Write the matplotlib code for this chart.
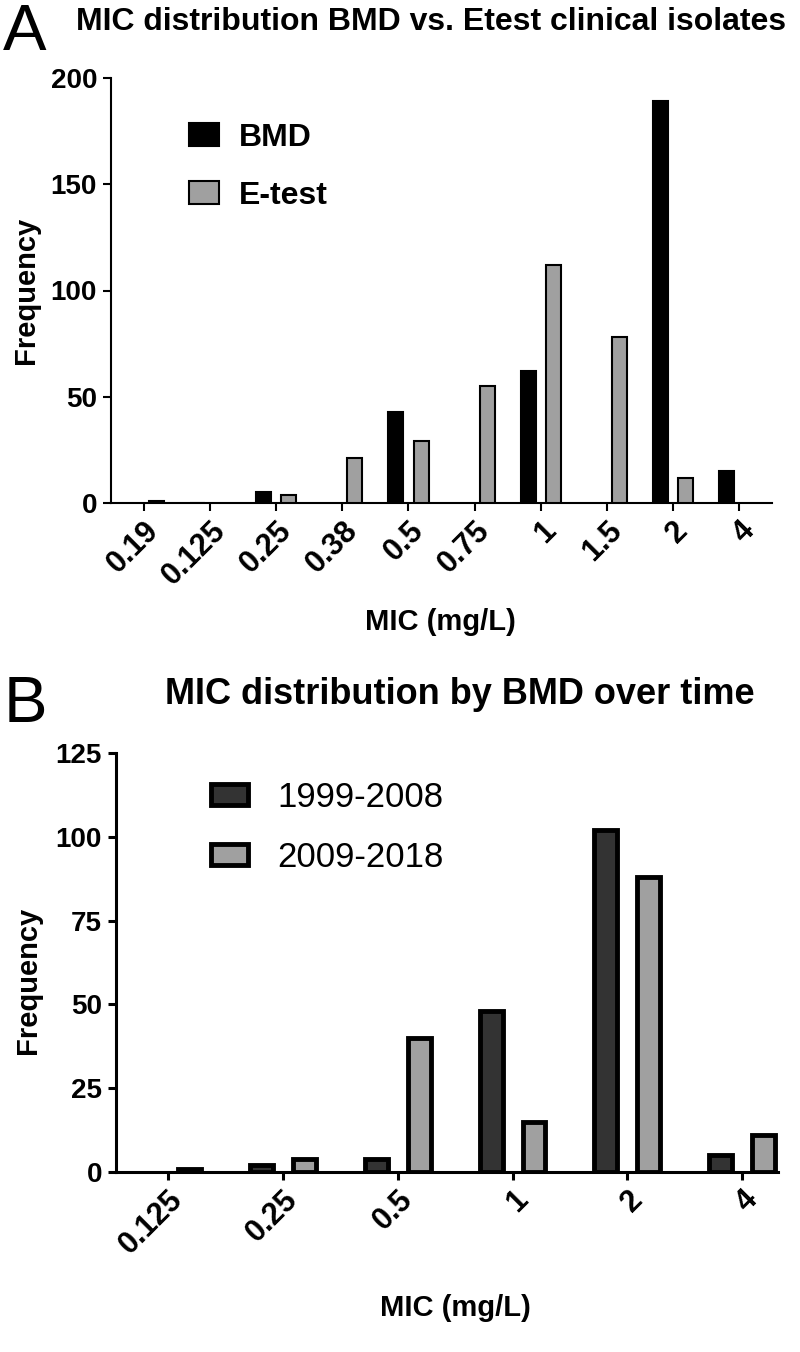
import numpy as np
import matplotlib
matplotlib.use("Agg")
import matplotlib.pyplot as plt
from matplotlib.patches import Patch

# ---------------- data ----------------
a_categories = ["0.19", "0.125", "0.25", "0.38", "0.5", "0.75", "1", "1.5", "2", "4"]
a_bmd = [1, np.nan, 5, np.nan, 43, np.nan, 62, np.nan, 189, 15]
a_etest = [np.nan, 0, 4, 21, 29, 55, 112, 78, 12, np.nan]

b_categories = ["0.125", "0.25", "0.5", "1", "2", "4"]
b_1999_2008 = [np.nan, 2, 4, 48, 102, 5]
b_2009_2018 = [1, 4, 40, 15, 88, 11]

# ---------------- style ----------------
plt.rcParams['font.family'] = ['Liberation Sans', 'DejaVu Sans']
a_bmd_side = [1, -1, -1, -1, -1, -1, -1, -1, -1, -1]
a_etest_side = [1, -1, 1, 1, 1, 1, 1, 1, 1, 1]

fig = plt.figure(figsize=(8, 13.52), dpi=100)


def style_axes(ax, lw):
    for s in ['top', 'right']:
        ax.spines[s].set_visible(False)
    for s in ['left', 'bottom']:
        ax.spines[s].set_linewidth(lw)
    ax.tick_params(axis='both', width=lw, length=6, direction='out')
    ax.tick_params(axis='y', pad=4)
    ax.tick_params(axis='x', pad=3)


def draw_bars(ax, x, vals, side, color, lw, off, w):
    vals = np.asarray(vals, dtype=float)
    x = np.asarray(x, dtype=float)
    side = np.asarray(side, dtype=float)
    m = ~np.isnan(vals)
    ax.bar(x[m] + side[m] * off, vals[m], width=w, color=color,
           edgecolor='black', linewidth=lw, zorder=3)


def tick_fonts(ax, xsize, ysize):
    for lab in ax.get_xticklabels():
        lab.set_fontsize(xsize)
        lab.set_fontweight('bold')
        lab.set_rotation(45)
        lab.set_ha('right')
        lab.set_va('top')
        lab.set_rotation_mode('anchor')
    for lab in ax.get_yticklabels():
        lab.set_fontsize(ysize)
        lab.set_fontweight('bold')


# ---------------- Panel A ----------------
axA = fig.add_axes([111 / 800, 1 - 503 / 1352, (772 - 111) / 800, (503 - 78) / 1352])
xa = np.arange(len(a_categories))
draw_bars(axA, xa, a_bmd, a_bmd_side, 'black', 1.5, 0.19, 0.227)
draw_bars(axA, xa, a_etest, a_etest_side, '#a0a0a0', 1.5, 0.19, 0.227)
axA.set_xlim(-0.5, len(a_categories) - 0.5)
axA.set_ylim(0, 200)
axA.set_yticks([0, 50, 100, 150, 200])
axA.set_xticks(xa)
axA.set_xticklabels(a_categories)
tick_fonts(axA, 22, 20)
style_axes(axA, 1.5)
axA.set_ylabel('Frequency', fontsize=21, fontweight='bold')
axA.yaxis.set_label_coords((26 - 111) / 661, (503 - 290) / 425)
axA.yaxis.label.set_va('center')
axA.set_xlabel('MIC (mg/L)', fontsize=21, fontweight='bold')
axA.xaxis.set_label_coords((440 - 111) / 661, (503 - 622) / 425)
axA.xaxis.label.set_va('center')
fig.text(431 / 800, 1 - 22 / 1352, 'MIC distribution BMD vs. Etest clinical isolates',
         fontsize=23, fontweight='bold', ha='center', va='center')
hA = [Patch(facecolor='black', edgecolor='black', linewidth=1.5),
      Patch(facecolor='#a0a0a0', edgecolor='black', linewidth=1.5)]
axA.legend(hA, ['BMD', 'E-test'], loc='upper left',
           bbox_to_anchor=((189 - 111) / 661, (503 - 123) / 425),
           frameon=False, borderpad=0, borderaxespad=0,
           prop={'family': 'Liberation Sans', 'weight': 'bold', 'size': 23},
           handlelength=0.94, handleheight=0.72, handletextpad=0.62, labelspacing=0.87)
fig.text(0.004, 1 - 50 / 1352, 'A', fontsize=47, ha='left', va='baseline')

# ---------------- Panel B ----------------
axB = fig.add_axes([116 / 800, 1 - 1172 / 1352, (778 - 116) / 800, (1172 - 753) / 1352])
xb = np.arange(len(b_categories))
draw_bars(axB, xb, b_1999_2008, [-1] * len(b_categories), '#333333', 3.5, 0.187, 0.2)
draw_bars(axB, xb, b_2009_2018, [1] * len(b_categories), '#a0a0a0', 3.5, 0.187, 0.2)
axB.set_xlim(-0.45, 5.31)
axB.set_ylim(0, 125)
axB.set_yticks([0, 25, 50, 75, 100, 125])
axB.set_xticks(xb)
axB.set_xticklabels(b_categories)
tick_fonts(axB, 22, 20)
style_axes(axB, 2.2)
axB.set_ylabel('Frequency', fontsize=21, fontweight='bold')
axB.yaxis.set_label_coords((28 - 116) / 662, (1172 - 980) / 419)
axB.yaxis.label.set_va('center')
axB.set_xlabel('MIC (mg/L)', fontsize=21, fontweight='bold')
axB.xaxis.set_label_coords((455 - 116) / 662, (1172 - 1308) / 419)
axB.xaxis.label.set_va('center')
fig.text(460 / 800, 1 - 694 / 1352, 'MIC distribution by BMD over time',
         fontsize=26, fontweight='bold', ha='center', va='center')
hB = [Patch(facecolor='#333333', edgecolor='black', linewidth=3.5),
      Patch(facecolor='#a0a0a0', edgecolor='black', linewidth=3.5)]
axB.legend(hB, ['1999-2008', '2009-2018'], loc='upper left',
           bbox_to_anchor=((210.5 - 116) / 662, (1172 - 781) / 419),
           frameon=False, borderpad=0, borderaxespad=0,
           prop={'family': 'Liberation Sans', 'size': 25},
           handlelength=1.07, handleheight=0.55, handletextpad=0.85, labelspacing=0.78)
fig.text(0.004, 1 - 722 / 1352, 'B', fontsize=47, ha='left', va='baseline')

fig.savefig('out.png', dpi=100)
